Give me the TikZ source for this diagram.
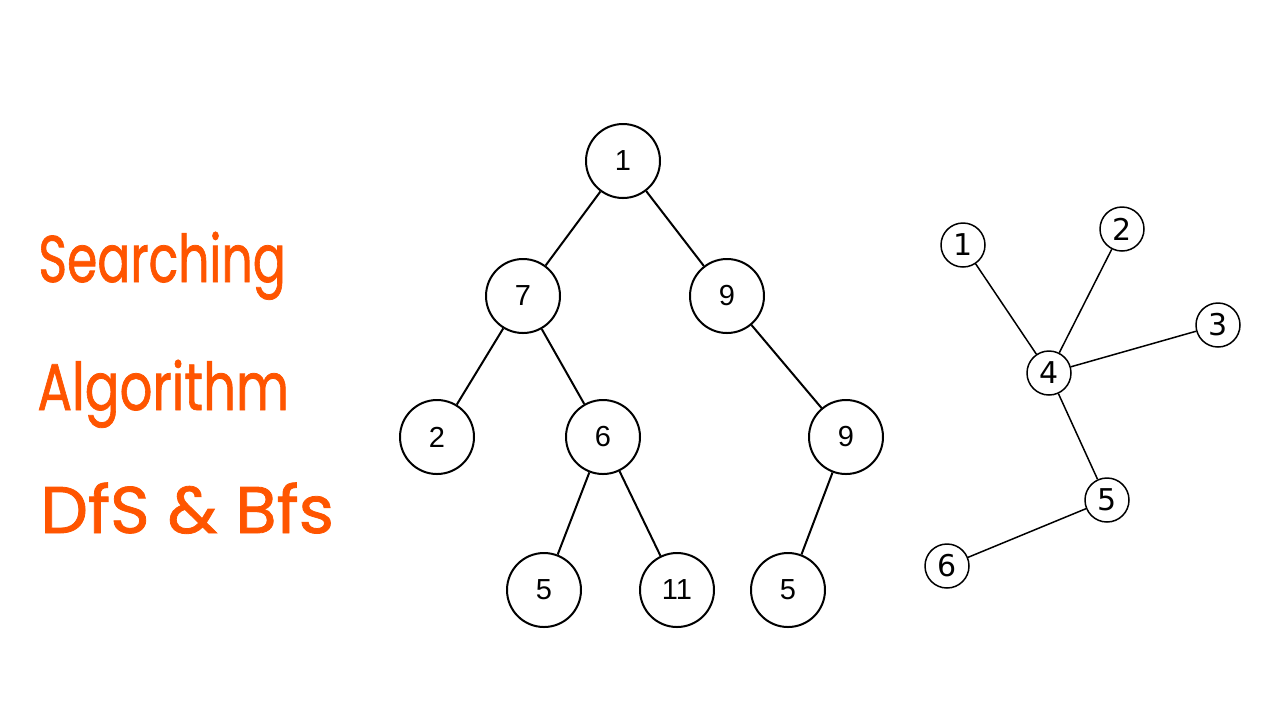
\documentclass[tikz,border=0pt]{standalone}
\usepackage{fontspec}
\setmainfont{Liberation Sans}
\newfontfamily\handfont[FakeBold=1.2]{Poppins}
\newfontfamily\graphfont{DejaVu Sans}
\definecolor{handorange}{RGB}{255,85,0}
\begin{document}
\begin{tikzpicture}[x=0.5pt,y=-0.5pt,
  treenode/.style={circle,draw=black,line width=1pt,minimum size=37pt,inner sep=0pt,font=\fontsize{14.5}{16}\selectfont},
  treeedge/.style={line width=1pt},
  gnode/.style={circle,draw=black,line width=0.75pt,minimum size=22pt,inner sep=0pt,font=\graphfont\fontsize{15}{17}\selectfont},
  gedge/.style={line width=0.75pt},
  hand/.style={anchor=base west,inner sep=0pt,text=handorange,font=\handfont\fontsize{33}{36}\selectfont}]
\useasboundingbox[fill=white] (0,0) rectangle (1280,720);
% handwritten title
\node[hand] (t1) at (38,282) {\scalebox{0.74}[1]{Searching}};
\node[hand] (t2) at (37,410) {\scalebox{0.78}[1]{Algorithm}};
\node[hand] (t3) at (40,533) {\scalebox{1.02}[1]{DfS \& Bfs}};
% tree
\node[treenode] (a1) at (623,161) {1};
\node[treenode] (a7) at (523,296) {7};
\node[treenode] (a9) at (727,296) {9};
\node[treenode] (a2) at (437,437) {2};
\node[treenode] (a6) at (603,437) {6};
\node[treenode] (a9b) at (846,437) {9};
\node[treenode] (a5) at (544,590) {5};
\node[treenode] (a11) at (677,590) {11};
\node[treenode] (a5b) at (788,590) {5};
\draw[treeedge] (a1) -- (a7);
\draw[treeedge] (a1) -- (a9);
\draw[treeedge] (a7) -- (a2);
\draw[treeedge] (a7) -- (a6);
\draw[treeedge] (a9) -- (a9b);
\draw[treeedge] (a6) -- (a5);
\draw[treeedge] (a6) -- (a11);
\draw[treeedge] (a9b) -- (a5b);
% graph
\node[gnode] (g1) at (963,245) {1};
\node[gnode] (g2) at (1122,229) {2};
\node[gnode] (g3) at (1218,325) {3};
\node[gnode] (g4) at (1049,373) {4};
\node[gnode] (g5) at (1107,500) {5};
\node[gnode] (g6) at (947,566) {6};
\draw[gedge] (g1) -- (g4);
\draw[gedge] (g2) -- (g4);
\draw[gedge] (g3) -- (g4);
\draw[gedge] (g4) -- (g5);
\draw[gedge] (g5) -- (g6);
\end{tikzpicture}
\end{document}
